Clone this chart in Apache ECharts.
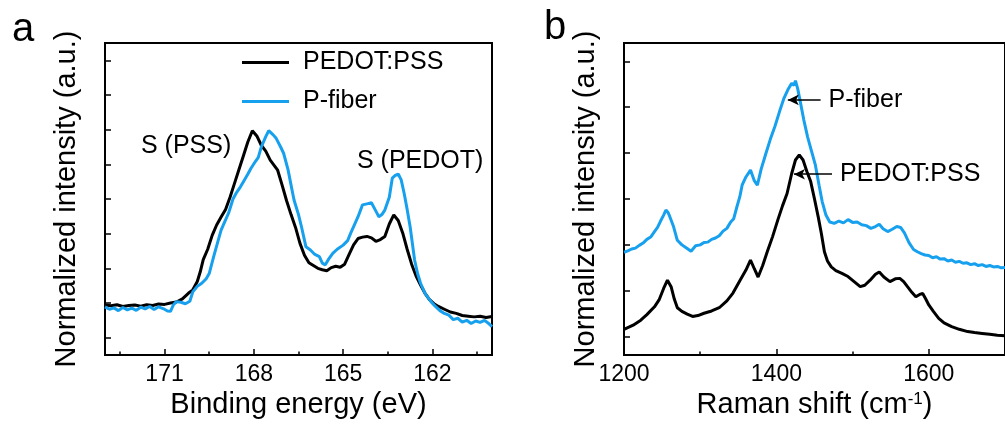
<!DOCTYPE html>
<html><head><meta charset="utf-8">
<script src="https://cdn.jsdelivr.net/npm/echarts@6/dist/echarts.min.js"></script>
<style>html,body{margin:0;padding:0;background:#fff}#c{width:1005px;height:430px}</style>
</head><body><div id="c"></div>
<script>
// ---------- Panel a: XPS ----------
const xpsPedotX = [173.0,172.8,172.6,172.4,172.2,172.0,171.8,171.6,171.4,171.2,171.0,170.8,170.6,170.4,170.2,170.05,169.9,169.8,169.7,169.55,169.4,169.25,169.1,168.95,168.8,168.65,168.5,168.35,168.2,168.05,167.9,167.75,167.6,167.45,167.3,167.2,167.05,166.9,166.75,166.6,166.45,166.3,166.15,166.0,165.85,165.7,165.55,165.4,165.25,165.1,164.95,164.8,164.65,164.5,164.35,164.2,164.05,163.9,163.75,163.6,163.45,163.3,163.15,163.0,162.85,162.7,162.55,162.4,162.25,162.1,161.95,161.8,161.6,161.4,161.2,161.0,160.8,160.6,160.4,160.2,160.0];
const xpsPedotY = [1.44,1.42,1.45,1.40,1.43,1.44,1.41,1.45,1.43,1.47,1.46,1.50,1.53,1.62,1.78,1.88,2.12,2.40,2.75,3.05,3.45,3.75,3.98,4.20,4.55,4.95,5.35,5.75,6.15,6.47,6.32,6.05,5.88,5.62,5.45,5.33,4.90,4.45,4.05,3.68,3.22,2.88,2.66,2.58,2.50,2.46,2.43,2.52,2.56,2.53,2.62,2.90,3.18,3.36,3.40,3.42,3.38,3.28,3.33,3.42,3.78,4.04,3.88,3.52,3.05,2.62,2.28,2.02,1.78,1.60,1.48,1.40,1.32,1.24,1.20,1.14,1.12,1.10,1.12,1.08,1.11];
const xpsFiberX = [173.0,172.85,172.7,172.55,172.4,172.25,172.1,171.95,171.8,171.65,171.5,171.35,171.2,171.05,170.9,170.8,170.7,170.6,170.45,170.3,170.15,170.05,169.9,169.75,169.6,169.5,169.35,169.2,169.1,168.95,168.85,168.7,168.6,168.45,168.35,168.2,168.1,167.95,167.85,167.75,167.6,167.5,167.35,167.25,167.1,167.0,166.85,166.75,166.65,166.5,166.4,166.25,166.1,165.95,165.8,165.7,165.6,165.5,165.35,165.2,165.0,164.85,164.75,164.6,164.5,164.35,164.2,164.05,163.9,163.8,163.7,163.6,163.45,163.35,163.25,163.15,163.05,162.95,162.85,162.75,162.6,162.5,162.4,162.25,162.05,161.9,161.75,161.6,161.45,161.3,161.15,161.0,160.85,160.7,160.55,160.4,160.25,160.1,160.0];
const xpsFiberY = [1.39,1.32,1.36,1.28,1.37,1.30,1.35,1.29,1.38,1.33,1.40,1.31,1.39,1.34,1.27,1.26,1.45,1.54,1.52,1.48,1.55,1.82,1.98,2.07,2.20,2.35,2.84,3.30,3.60,3.90,4.09,4.50,4.66,4.85,5.00,5.22,5.38,5.58,5.70,6.00,6.30,6.47,6.35,6.25,6.00,5.82,5.34,4.90,4.47,4.05,3.70,3.12,3.03,2.90,2.84,2.65,2.60,2.75,2.93,3.05,3.17,3.30,3.51,3.80,3.99,4.33,4.36,4.39,4.15,3.99,4.05,4.18,4.55,5.10,5.18,5.22,5.05,4.66,4.20,3.70,2.74,2.35,2.07,1.78,1.54,1.40,1.28,1.20,1.15,1.02,1.06,0.95,1.00,0.91,0.98,0.94,1.00,0.90,0.82];
const xpsMajorTicks = [171,168,165,162];
const xpsMinorTicks = [172.5,169.5,166.5,163.5,160.5];
const xpsYTicks = [0.5,1.5,2.5,3.5,4.5,5.5,6.5,7.5,8.5];

// ---------- Panel b: Raman ----------
const ramanFiberX = [1200,1205,1210,1215,1220,1225,1230,1235,1240,1244,1248,1252,1255,1258,1260,1265,1270,1276,1282,1288,1294,1300,1305,1310,1315,1320,1325,1330,1335,1340,1344,1348,1352,1355,1360,1366,1371,1375,1380,1386,1392,1398,1404,1410,1415,1420,1423,1425,1428,1431,1436,1441,1446,1451,1456,1460,1465,1470,1476,1482,1488,1494,1500,1506,1512,1518,1524,1530,1535,1540,1546,1552,1558,1563,1568,1574,1580,1585,1590,1595,1600,1605,1610,1615,1620,1625,1630,1635,1640,1645,1650,1655,1660,1665,1670,1675,1680,1685,1690,1695,1700];
const ramanFiberY = [2.24,2.27,2.31,2.33,2.39,2.44,2.52,2.57,2.69,2.78,2.92,3.05,3.16,3.10,3.02,2.80,2.50,2.40,2.33,2.26,2.38,2.40,2.45,2.46,2.52,2.55,2.60,2.70,2.76,2.90,2.97,3.22,3.45,3.70,3.88,4.03,3.80,3.70,4.05,4.38,4.70,4.98,5.30,5.60,5.78,5.92,5.88,5.98,5.80,5.55,5.12,4.75,4.45,4.15,3.70,3.35,3.05,2.90,2.87,2.92,2.88,2.95,2.89,2.90,2.84,2.82,2.76,2.80,2.85,2.75,2.69,2.74,2.80,2.78,2.66,2.45,2.30,2.25,2.21,2.18,2.17,2.12,2.14,2.09,2.10,2.05,2.07,2.02,2.04,2.00,2.01,1.97,1.99,1.95,1.97,1.93,1.95,1.92,1.93,1.90,1.91];
const ramanPedotX = [1200,1212,1222,1230,1240,1246,1252,1257,1262,1266,1270,1276,1283,1290,1297,1305,1315,1325,1335,1343,1352,1360,1366,1371,1376,1382,1388,1395,1402,1408,1414,1420,1425,1430,1435,1440,1445,1450,1455,1459,1463,1467,1472,1478,1486,1494,1502,1510,1516,1523,1530,1535,1541,1549,1556,1562,1567,1572,1578,1583,1588,1592,1596,1600,1606,1613,1620,1630,1640,1651,1660,1670,1680,1690,1700];
const ramanPedotY = [0.56,0.65,0.76,0.88,1.05,1.20,1.45,1.63,1.48,1.22,1.03,0.95,0.89,0.84,0.86,0.91,0.96,1.03,1.18,1.35,1.62,1.85,2.07,1.88,1.70,1.95,2.25,2.58,2.95,3.25,3.52,3.95,4.25,4.36,4.25,4.00,3.78,3.40,3.00,2.65,2.25,2.05,1.92,1.84,1.78,1.71,1.60,1.49,1.52,1.63,1.76,1.81,1.70,1.60,1.66,1.67,1.60,1.49,1.36,1.27,1.32,1.34,1.22,1.09,0.95,0.80,0.70,0.62,0.56,0.51,0.49,0.47,0.45,0.43,0.42];
const ramanMajorTicks = [1200,1400,1600];
const ramanMinorTicks = [1300,1500,1700];
const ramanYTicks = [0.4,1.4,2.4,3.4,4.4,5.4,6.4];
// arrow annotations [xStart(arrowhead), xEnd, y]
const fiberArrow = [1415,1458,5.56];
const pedotArrow = [1423,1473,3.94];

const FONT = 'Liberation Sans, Arial, sans-serif';
const BLACK = '#000000';
const BLUE = '#17a0ee';
const zip = (xs, ys) => xs.map((x, i) => [x, ys[i]]);

const chart = echarts.init(document.getElementById('c'), null, {renderer: 'canvas'});

function mainX(grid, min, max, inverse, ticks, name, nameGap) {
  return {
    type: 'value', gridIndex: grid, min: min, max: max, inverse: inverse, position: 'bottom',
    name: name, nameLocation: 'middle', nameGap: nameGap,
    nameTextStyle: {fontSize: 29, color: BLACK, fontFamily: FONT, rich: {sup: {fontSize: 17, color: BLACK, fontFamily: FONT, verticalAlign: 'top', padding: [0,0,12,0]}, n: {fontSize: 29, color: BLACK, fontFamily: FONT}}},
    axisLine: {show: true, onZero: false, lineStyle: {color: BLACK, width: 2}},
    axisTick: {show: true, inside: true, length: 6, lineStyle: {color: BLACK, width: 1.5}, customValues: ticks},
    axisLabel: {show: true, margin: 8, fontSize: 23, color: BLACK, fontFamily: FONT, customValues: ticks, formatter: v => String(v)},
    splitLine: {show: false}
  };
}
function minorX(grid, min, max, inverse, ticks) {
  return {
    type: 'value', gridIndex: grid, min: min, max: max, inverse: inverse, position: 'bottom', offset: 0,
    axisLine: {show: false, onZero: false},
    axisTick: {show: true, inside: true, length: 3.5, lineStyle: {color: BLACK, width: 1.5}, customValues: ticks},
    axisLabel: {show: false},
    splitLine: {show: false}
  };
}
function yAx(grid, max, ticks) {
  return {
    type: 'value', gridIndex: grid, min: 0, max: max,
    name: 'Normalized intensity (a.u.)', nameLocation: 'middle', nameGap: 24,
    nameTextStyle: {fontSize: 29, color: BLACK, fontFamily: FONT},
    axisLine: {show: true, onZero: false, lineStyle: {color: BLACK, width: 2}},
    axisTick: {show: true, inside: true, length: 6, lineStyle: {color: BLACK, width: 1.5}, customValues: ticks},
    axisLabel: {show: false},
    splitLine: {show: false}
  };
}
function arrowMark(a, text) {
  return {
    silent: true, animation: false,
    symbol: ['arrow', 'none'], symbolSize: [8, 11],
    lineStyle: {color: BLACK, width: 1.5, type: 'solid'},
    label: {show: true, position: 'end', distance: 8, formatter: text, fontSize: 25, color: BLACK, fontFamily: FONT},
    data: [[{coord: [a[0], a[2]]}, {coord: [a[1], a[2]]}]]
  };
}

const option = {
  animation: false,
  backgroundColor: '#ffffff',
  textStyle: {fontFamily: FONT, color: BLACK},
  grid: [
    {left: 105, top: 43, width: 387, height: 312, show: true, borderColor: BLACK, borderWidth: 2, backgroundColor: 'transparent'},
    {left: 624, top: 43, width: 390, height: 312, show: true, borderColor: BLACK, borderWidth: 2, backgroundColor: 'transparent'}
  ],
  legend: {
    data: ['PEDOT:PSS', 'P-fiber'], orient: 'vertical', left: 242, top: 50, padding: 0,
    icon: 'rect', itemWidth: 47, itemHeight: 3, itemGap: 14,
    textStyle: {fontSize: 25, color: BLACK, fontFamily: FONT, padding: [0, 0, 0, 9]},
    selectedMode: false
  },
  xAxis: [
    mainX(0, 160, 173, true, xpsMajorTicks, 'Binding energy (eV)', 26),
    minorX(0, 160, 173, true, xpsMinorTicks),
    mainX(1, 1200, 1700, false, ramanMajorTicks, '{n|Raman shift (cm}{sup|-1}{n|)}', 26),
    minorX(1, 1200, 1700, false, ramanMinorTicks)
  ],
  yAxis: [yAx(0, 9, xpsYTicks), yAx(1, 6.8, ramanYTicks)],
  series: [
    {name: 'PEDOT:PSS', type: 'line', xAxisIndex: 0, yAxisIndex: 0, showSymbol: false, symbol: 'none', data: zip(xpsPedotX, xpsPedotY), lineStyle: {color: BLACK, width: 3}, itemStyle: {color: BLACK}, z: 3},
    {name: 'P-fiber', type: 'line', xAxisIndex: 0, yAxisIndex: 0, showSymbol: false, symbol: 'none', data: zip(xpsFiberX, xpsFiberY), lineStyle: {color: BLUE, width: 3}, itemStyle: {color: BLUE}, z: 4},
    {name: 'PEDOT:PSS', type: 'line', xAxisIndex: 2, yAxisIndex: 1, showSymbol: false, symbol: 'none', data: zip(ramanPedotX, ramanPedotY), lineStyle: {color: BLACK, width: 3}, itemStyle: {color: BLACK}, markLine: arrowMark(pedotArrow, 'PEDOT:PSS')},
    {name: 'P-fiber', type: 'line', xAxisIndex: 2, yAxisIndex: 1, showSymbol: false, symbol: 'none', data: zip(ramanFiberX, ramanFiberY), lineStyle: {color: BLUE, width: 3}, itemStyle: {color: BLUE}, markLine: arrowMark(fiberArrow, 'P-fiber')}
  ],
  graphic: [
    {type: 'text', left: 12, top: 10, style: {text: 'a', fontSize: 40, fill: BLACK, fontFamily: FONT}},
    {type: 'text', left: 544, top: 8, style: {text: 'b', fontSize: 40, fill: BLACK, fontFamily: FONT}},
    {type: 'text', x: 141, y: 146, style: {text: 'S (PSS)', fontSize: 25, fill: BLACK, fontFamily: FONT, verticalAlign: 'middle'}},
    {type: 'text', x: 357, y: 161, style: {text: 'S (PEDOT)', fontSize: 25, fill: BLACK, fontFamily: FONT, verticalAlign: 'middle'}}
  ]
};
chart.setOption(option);
</script>
</body></html>
